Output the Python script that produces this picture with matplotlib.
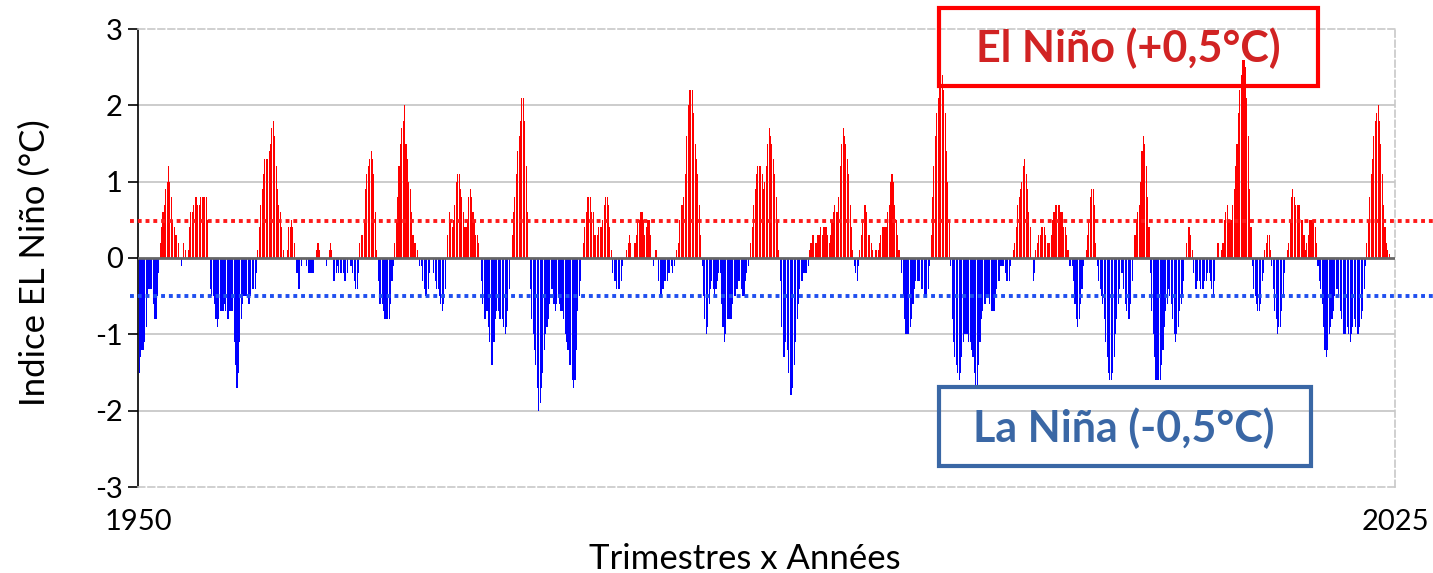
import numpy as np
import matplotlib.pyplot as plt
from matplotlib.patches import Rectangle

plt.rcParams['font.family'] = ['Lato', 'DejaVu Sans']
plt.rcParams['axes.unicode_minus'] = False

# indice ONI, trimestres glissants DJF ... NDJ, par décennie
oni_1950s = [
    -1.5, -1.3, -1.2, -1.2, -1.1, -0.9, -0.5, -0.4, -0.4, -0.4, -0.6, -0.8,
    -0.8, -0.5, -0.2, 0.2, 0.4, 0.6, 0.7, 0.9, 1.0, 1.2, 1.0, 0.8,
    0.5, 0.4, 0.3, 0.3, 0.2, 0.0, -0.1, 0.0, 0.2, 0.1, 0.0, 0.1,
    0.4, 0.6, 0.6, 0.7, 0.8, 0.8, 0.7, 0.7, 0.8, 0.8, 0.8, 0.8,
    0.8, 0.5, 0.0, -0.4, -0.5, -0.5, -0.6, -0.8, -0.9, -0.8, -0.7, -0.7,
    -0.7, -0.6, -0.7, -0.8, -0.8, -0.7, -0.7, -0.7, -1.1, -1.4, -1.7, -1.5,
    -1.1, -0.8, -0.6, -0.5, -0.5, -0.5, -0.6, -0.6, -0.5, -0.4, -0.4, -0.4,
    -0.2, 0.1, 0.4, 0.7, 0.9, 1.1, 1.3, 1.3, 1.3, 1.4, 1.5, 1.7,
    1.8, 1.6, 1.2, 0.9, 0.7, 0.6, 0.4, 0.1, 0.0, 0.0, 0.1, 0.4,
    0.4, 0.5, 0.4, 0.2, 0.0, -0.2, -0.4, -0.4, -0.1, 0.0, 0.0, 0.0,
]
oni_1960s = [
    -0.1, -0.2, -0.2, -0.2, -0.2, -0.2, 0.0, 0.1, 0.2, 0.1, 0.0, 0.0,
    0.0, 0.0, -0.1, 0.0, 0.1, 0.2, 0.1, -0.3, -0.3, -0.2, -0.1, -0.2,
    -0.2, -0.2, -0.2, -0.3, -0.3, -0.2, 0.0, -0.1, -0.1, -0.2, -0.3, -0.4,
    -0.4, -0.2, 0.2, 0.3, 0.3, 0.5, 0.9, 1.1, 1.2, 1.3, 1.4, 1.3,
    1.1, 0.6, 0.1, -0.3, -0.6, -0.6, -0.6, -0.7, -0.8, -0.8, -0.8, -0.8,
    -0.6, -0.3, -0.1, 0.2, 0.5, 0.8, 1.2, 1.5, 1.7, 1.8, 2.0, 1.5,
    1.3, 1.0, 0.9, 0.6, 0.3, 0.2, 0.2, 0.1, 0.0, -0.1, -0.1, -0.3,
    -0.4, -0.5, -0.5, -0.4, -0.2, 0.0, 0.0, -0.2, -0.3, -0.4, -0.4, -0.5,
    -0.6, -0.7, -0.6, -0.4, 0.0, 0.3, 0.6, 0.5, 0.4, 0.5, 0.7, 1.0,
    1.1, 1.1, 0.9, 0.8, 0.6, 0.4, 0.4, 0.5, 0.8, 0.9, 0.8, 0.6,
]
oni_1970s = [
    0.5, 0.3, 0.3, 0.2, 0.0, -0.3, -0.6, -0.8, -0.8, -0.7, -0.9, -1.1,
    -1.4, -1.4, -1.1, -0.8, -0.7, -0.7, -0.8, -0.8, -0.8, -0.9, -1.0, -0.9,
    -0.7, -0.4, 0.0, 0.3, 0.6, 0.8, 1.1, 1.4, 1.6, 1.8, 2.1, 2.1,
    1.8, 1.2, 0.6, 0.0, -0.4, -0.8, -1.0, -1.2, -1.4, -1.7, -2.0, -1.9,
    -1.7, -1.5, -1.2, -1.0, -0.9, -0.8, -0.6, -0.4, -0.4, -0.6, -0.7, -0.6,
    -0.5, -0.6, -0.7, -0.7, -0.8, -1.0, -1.1, -1.2, -1.4, -1.4, -1.6, -1.7,
    -1.6, -1.2, -0.7, -0.5, -0.3, 0.0, 0.2, 0.4, 0.6, 0.8, 0.8, 0.8,
    0.6, 0.6, 0.3, 0.3, 0.3, 0.4, 0.4, 0.4, 0.5, 0.7, 0.8, 0.8,
    0.7, 0.4, 0.1, -0.2, -0.3, -0.3, -0.4, -0.4, -0.4, -0.3, -0.1, 0.0,
    0.0, 0.1, 0.2, 0.3, 0.2, 0.0, 0.0, 0.2, 0.3, 0.5, 0.5, 0.6,
]
oni_1980s = [
    0.6, 0.5, 0.3, 0.4, 0.5, 0.5, 0.3, 0.0, -0.1, 0.0, 0.1, 0.0,
    -0.3, -0.5, -0.5, -0.4, -0.3, -0.3, -0.3, -0.2, -0.2, -0.1, -0.2, -0.1,
    0.0, 0.1, 0.2, 0.5, 0.7, 0.7, 0.8, 1.1, 1.6, 2.0, 2.2, 2.2,
    2.2, 1.9, 1.5, 1.3, 1.1, 0.7, 0.3, -0.1, -0.5, -0.8, -1.0, -0.9,
    -0.6, -0.4, -0.3, -0.4, -0.5, -0.4, -0.3, -0.2, -0.2, -0.6, -0.9, -1.1,
    -1.0, -0.8, -0.8, -0.8, -0.8, -0.6, -0.5, -0.5, -0.4, -0.3, -0.3, -0.4,
    -0.5, -0.5, -0.3, -0.2, -0.1, 0.0, 0.2, 0.4, 0.7, 0.9, 1.1, 1.2,
    1.2, 1.2, 1.1, 0.9, 1.0, 1.2, 1.5, 1.7, 1.6, 1.5, 1.3, 1.1,
    0.8, 0.5, 0.1, -0.3, -0.9, -1.3, -1.3, -1.1, -1.2, -1.5, -1.8, -1.8,
    -1.7, -1.4, -1.1, -0.8, -0.6, -0.4, -0.3, -0.3, -0.2, -0.2, -0.2, -0.1,
]
oni_1990s = [
    0.1, 0.2, 0.3, 0.3, 0.2, 0.2, 0.3, 0.3, 0.4, 0.3, 0.4, 0.4,
    0.4, 0.3, 0.2, 0.3, 0.5, 0.6, 0.7, 0.6, 0.6, 0.8, 1.2, 1.5,
    1.7, 1.6, 1.5, 1.3, 1.1, 0.7, 0.4, 0.1, -0.1, -0.2, -0.3, -0.1,
    0.1, 0.3, 0.5, 0.7, 0.7, 0.6, 0.3, 0.3, 0.2, 0.1, 0.0, 0.1,
    0.1, 0.1, 0.2, 0.3, 0.4, 0.4, 0.4, 0.4, 0.6, 0.7, 1.0, 1.1,
    1.0, 0.7, 0.5, 0.3, 0.1, 0.0, -0.2, -0.5, -0.8, -1.0, -1.0, -1.0,
    -0.9, -0.8, -0.6, -0.4, -0.3, -0.3, -0.3, -0.3, -0.4, -0.4, -0.5, -0.5,
    -0.5, -0.4, -0.1, 0.3, 0.8, 1.2, 1.6, 1.9, 2.1, 2.3, 2.4, 2.4,
    2.2, 1.9, 1.4, 1.0, 0.5, -0.1, -0.8, -1.1, -1.3, -1.4, -1.5, -1.6,
    -1.5, -1.3, -1.1, -1.0, -1.0, -1.0, -1.1, -1.1, -1.2, -1.3, -1.5, -1.7,
]
oni_2000s = [
    -1.7, -1.4, -1.1, -0.8, -0.7, -0.6, -0.6, -0.5, -0.5, -0.6, -0.7, -0.7,
    -0.7, -0.5, -0.4, -0.3, -0.3, -0.1, -0.1, -0.1, -0.2, -0.3, -0.3, -0.3,
    -0.1, 0.0, 0.1, 0.2, 0.4, 0.7, 0.8, 0.9, 1.0, 1.2, 1.3, 1.1,
    0.9, 0.6, 0.4, 0.0, -0.3, -0.2, 0.1, 0.2, 0.3, 0.3, 0.4, 0.4,
    0.4, 0.3, 0.2, 0.2, 0.2, 0.3, 0.5, 0.6, 0.7, 0.7, 0.7, 0.7,
    0.6, 0.6, 0.4, 0.4, 0.3, 0.1, -0.1, -0.1, -0.1, -0.3, -0.6, -0.8,
    -0.9, -0.8, -0.6, -0.4, -0.1, 0.0, 0.1, 0.3, 0.5, 0.8, 0.9, 0.9,
    0.7, 0.2, -0.1, -0.3, -0.4, -0.5, -0.6, -0.8, -1.1, -1.3, -1.5, -1.6,
    -1.6, -1.5, -1.3, -1.0, -0.8, -0.6, -0.4, -0.2, -0.2, -0.4, -0.6, -0.7,
    -0.8, -0.8, -0.6, -0.3, 0.0, 0.3, 0.5, 0.6, 0.7, 1.0, 1.4, 1.6,
]
oni_2010s = [
    1.5, 1.2, 0.8, 0.4, -0.2, -0.7, -1.0, -1.3, -1.6, -1.6, -1.6, -1.6,
    -1.4, -1.2, -0.9, -0.7, -0.6, -0.4, -0.5, -0.6, -0.8, -1.0, -1.1, -1.0,
    -0.9, -0.7, -0.6, -0.5, -0.3, 0.0, 0.2, 0.4, 0.4, 0.3, 0.1, -0.2,
    -0.4, -0.4, -0.3, -0.3, -0.4, -0.4, -0.4, -0.3, -0.3, -0.2, -0.2, -0.3,
    -0.4, -0.5, -0.3, 0.0, 0.2, 0.2, 0.0, 0.1, 0.2, 0.5, 0.6, 0.7,
    0.5, 0.5, 0.5, 0.7, 0.9, 1.2, 1.5, 1.9, 2.2, 2.4, 2.6, 2.6,
    2.5, 2.1, 1.6, 0.9, 0.4, -0.1, -0.4, -0.5, -0.6, -0.7, -0.7, -0.6,
    -0.3, -0.2, 0.1, 0.2, 0.3, 0.3, 0.1, -0.1, -0.4, -0.7, -0.8, -1.0,
    -0.9, -0.9, -0.7, -0.5, -0.2, 0.0, 0.1, 0.2, 0.5, 0.8, 0.9, 0.8,
    0.7, 0.7, 0.7, 0.7, 0.5, 0.5, 0.3, 0.1, 0.2, 0.3, 0.5, 0.5,
]
oni_2020s = [
    0.5, 0.5, 0.4, 0.2, -0.1, -0.3, -0.4, -0.6, -0.9, -1.2, -1.3, -1.2,
    -1.0, -0.9, -0.8, -0.7, -0.5, -0.4, -0.4, -0.5, -0.7, -0.8, -1.0, -1.0,
    -1.0, -0.9, -1.0, -1.1, -1.0, -0.9, -0.8, -0.9, -1.0, -1.0, -0.9, -0.8,
    -0.7, -0.4, -0.1, 0.2, 0.5, 0.8, 1.1, 1.3, 1.6, 1.8, 1.9, 2.0,
    1.8, 1.5, 1.1, 0.7, 0.4, 0.2, 0.1, 0.05,
]

oni = np.array(oni_1950s + oni_1960s + oni_1970s + oni_1980s
               + oni_1990s + oni_2000s + oni_2010s + oni_2020s)
t = 1950 + np.arange(len(oni)) / 12 + 0.04

seuil_nino = 0.48
seuil_nina = -0.5

fig = plt.figure(figsize=(14.33, 5.73), dpi=100)
ax = fig.add_axes([138 / 1433, 1 - 487 / 573, 1257 / 1433, 458 / 573])

couleurs = np.where(oni >= 0, '#ff0000', '#0000ff')
ax.bar(t, oni, width=0.065, color=couleurs, linewidth=0, align='edge', zorder=3)

# grille et ligne du zéro
for y in [-2, -1, 1, 2]:
    ax.axhline(y, color='#c4c4c4', lw=1.2, zorder=1)
ax.axhline(0, color='#666666', lw=2, zorder=4)

# seuils El Niño / La Niña
tr = ax.get_yaxis_transform()
ax.plot([-0.006, 1.03], [seuil_nino] * 2, transform=tr, color='#ff1a1a',
        lw=2.8, dashes=(1, 1), clip_on=False, zorder=5)
ax.plot([-0.006, 1.03], [seuil_nina] * 2, transform=tr, color='#1f4ff0',
        lw=2.8, dashes=(1, 1), clip_on=False, zorder=5)

ax.set_xlim(1950, 2025)
ax.set_ylim(-3, 3)
ax.set_yticks(range(-3, 4))
ax.set_xticks([1950, 2025])
ax.tick_params(axis='y', direction='out', length=7, width=1.2, labelsize=21, pad=4)
ax.tick_params(axis='x', length=0, labelsize=21, pad=16)

ax.spines['left'].set_color('black')
ax.spines['left'].set_linewidth(1.2)
for s in ['top', 'right', 'bottom']:
    ax.spines[s].set_color('#c8c8c8')
    ax.spines[s].set_linewidth(1.2)
    ax.spines[s].set_linestyle((0, (4, 2)))

ax.set_ylabel('Indice EL Niño (°C)', fontsize=25)
ax.yaxis.set_label_coords(-0.069, 0.49)
ax.set_xlabel('Trimestres x Années', fontsize=25)
ax.xaxis.set_label_coords(0.483, -0.122)

# encadrés
fig.patches.append(Rectangle((939 / 1433, 1 - 86 / 573), 379 / 1433, 78 / 573,
                             transform=fig.transFigure, fill=False,
                             edgecolor='#ff0000', lw=3, zorder=6))
fig.text(1128 / 1433, 1 - 48 / 573, 'El Niño (+0,5°C)', color='#d12323',
         fontsize=31, fontweight='bold', ha='center', va='center')
fig.patches.append(Rectangle((939 / 1433, 1 - 466 / 573), 372 / 1433, 79 / 573,
                             transform=fig.transFigure, fill=False,
                             edgecolor='#3a67a5', lw=3, zorder=6))
fig.text(1124 / 1433, 1 - 428 / 573, 'La Niña (-0,5°C)', color='#3a67a5',
         fontsize=31, fontweight='bold', ha='center', va='center')

fig.savefig('out.png', dpi=100)
